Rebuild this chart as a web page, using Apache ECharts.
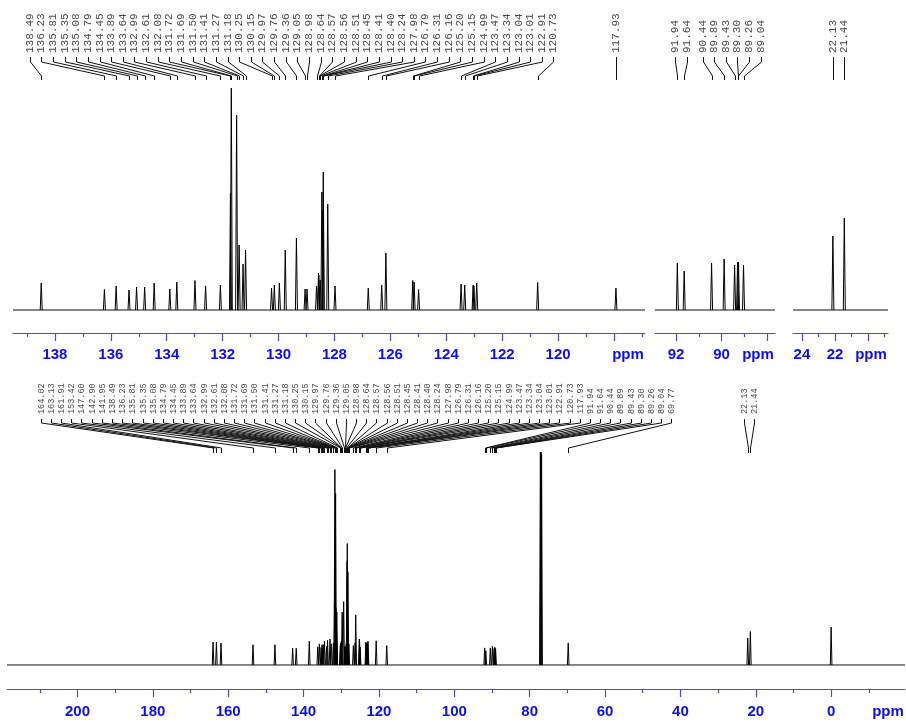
<!DOCTYPE html>
<html>
<head>
<meta charset="utf-8">
<script src="https://cdn.jsdelivr.net/npm/echarts@6/dist/echarts.min.js"></script>
<style>
  html, body { margin: 0; padding: 0; background: #fff; }
  #chart { width: 906px; height: 722px; }
</style>
</head>
<body>
<div id="chart"></div>
<script>
// 13C NMR peak list: chemical shift (ppm) and relative intensity
const peakPpm = [
  164.02, 163.13, 161.91, 153.42, 147.60, 142.90, 141.95,
  138.49, 136.23, 135.81, 135.35, 135.08, 134.79, 134.45, 133.89, 133.64, 132.99,
  132.61, 132.08, 131.72, 131.69, 131.50, 131.41, 131.27, 131.18, 130.25, 130.15,
  129.97, 129.76, 129.36, 129.05, 128.98, 128.64, 128.57, 128.56, 128.51, 128.45,
  128.41, 128.40, 128.24, 127.98, 126.79, 126.31, 126.16, 125.20, 125.15, 124.99,
  123.47, 123.34, 123.04, 123.01, 122.91, 120.73, 117.93,
  91.94, 91.64, 90.44, 89.89, 89.43, 89.30, 89.26, 89.04,
  77.16, 77.00, 76.84, 69.77, 22.13, 21.44, 0.00
];
const peakInt = [
  26, 26, 25, 23, 23, 19, 19,
  27, 20.5, 24, 20, 23, 23, 27, 21, 28, 29.5,
  24, 25, 117, 222, 195, 65, 46, 60, 22, 25,
  27, 60, 72, 21, 21, 24, 37, 35, 30, 118,
  100, 138, 106, 24, 22, 25, 57, 29.5, 28, 20.5,
  26, 25, 25, 24, 27, 27.5, 22,
  19.4, 16.1, 19.4, 21.1, 18.6, 19.8, 19.8, 18.6,
  242, 242, 240, 25, 30.6, 38, 43
];

// Shifts annotated above the expansions and above the full spectrum
const topLabelPpm = [
  138.49, 136.23, 135.81, 135.35, 135.08, 134.79, 134.45, 133.89, 133.64, 132.99,
  132.61, 132.08, 131.72, 131.69, 131.50, 131.41, 131.27, 131.18, 130.25, 130.15,
  129.97, 129.76, 129.36, 129.05, 128.98, 128.64, 128.57, 128.56, 128.51, 128.45,
  128.41, 128.40, 128.24, 127.98, 126.79, 126.31, 126.16, 125.20, 125.15, 124.99,
  123.47, 123.34, 123.04, 123.01, 122.91, 120.73, 117.93,
  91.94, 91.64, 90.44, 89.89, 89.43, 89.30, 89.26, 89.04,
  22.13, 21.44
];
const bottomLabelPpm = [
  164.02, 163.13, 161.91, 153.42, 147.60, 142.90, 141.95,
  138.49, 136.23, 135.81, 135.35, 135.08, 134.79, 134.45, 133.89, 133.64, 132.99,
  132.61, 132.08, 131.72, 131.69, 131.50, 131.41, 131.27, 131.18, 130.25, 130.15,
  129.97, 129.76, 129.36, 129.05, 128.98, 128.64, 128.57, 128.56, 128.51, 128.45,
  128.41, 128.40, 128.24, 127.98, 126.79, 126.31, 126.16, 125.20, 125.15, 124.99,
  123.47, 123.34, 123.04, 123.01, 122.91, 120.73, 117.93,
  91.94, 91.64, 90.44, 89.89, 89.43, 89.30, 89.26, 89.04, 69.77,
  22.13, 21.44
];

// Shift windows (ppm) of the three expansions and the full spectrum
const aromWindow = [116.89, 139.50];
const alkyneWindow = [87.66, 92.92];
const methylWindow = [18.80, 24.54];
const fullWindow = [-19.6, 218.7];

// Tick positions; the last major tick of each expansion carries "ppm" instead of a number
const aromMajor = [138, 136, 134, 132, 130, 128, 126, 124, 122, 120, 118];
const aromMinor = [139, 137, 135, 133, 131, 129, 127, 125, 123, 121, 119, 117];
const alkyneMajor = [92, 90, 88];
const alkyneMinor = [91, 89];
const methylMajor = [24, 22, 20];
const methylMinor = [23, 21, 19];
const fullMajor = [200, 180, 160, 140, 120, 100, 80, 60, 40, 20, 0];
const fullMinor = [210, 190, 170, 150, 130, 110, 90, 70, 50, 30, 10, -10];
const unlabeledTicks = [118, 88, 20];

const BLUE_TEXT = '#0c0cff';
const BLUE_LINE = '#4646ff';

const panels = [
  { win: aromWindow,   major: aromMajor,   minor: aromMinor,   grid: { left: 13,  right: 261, top: 80,  bottom: 389 }, y: [-23, 230],     margin: 14, hw: 1.0 },
  { win: alkyneWindow, major: alkyneMajor, minor: alkyneMinor, grid: { left: 655, right: 131, top: 80,  bottom: 389 }, y: [-9.5, 95.05],  margin: 14, hw: 1.0 },
  { win: methylWindow, major: methylMajor, minor: methylMinor, grid: { left: 793, right: 18,  top: 80,  bottom: 389 }, y: [-9.5, 95.05],  margin: 14, hw: 1.0 },
  { win: fullWindow,   major: fullMajor,   minor: fullMinor,   grid: { left: 7,   right: 1,   top: 440, bottom: 33 },  y: [-27.3, 255.7], margin: 15, hw: 0.8 }
];

const grids = [], xAxes = [], yAxes = [], series = [];

panels.forEach((p, i) => {
  grids.push(Object.assign({ containLabel: false }, p.grid));
  // main axis: line, long ticks, numbers
  xAxes.push({
    type: 'value', gridIndex: i, inverse: true, min: p.win[0], max: p.win[1],
    position: 'bottom',
    axisLine: { onZero: false, lineStyle: { color: BLUE_LINE, width: 1 } },
    axisTick: { customValues: p.major, length: 8, lineStyle: { color: BLUE_LINE, width: 1.2 } },
    axisLabel: {
      customValues: p.major, margin: p.margin,
      color: BLUE_TEXT, fontFamily: 'Liberation Sans', fontWeight: 'bold', fontSize: 15,
      formatter: v => (i < 3 && unlabeledTicks.indexOf(v) >= 0) ? '' : String(v)
    },
    splitLine: { show: false }
  });
  // companion axis carrying the short ticks
  xAxes.push({
    type: 'value', gridIndex: i, inverse: true, min: p.win[0], max: p.win[1],
    position: 'bottom',
    axisLine: { show: false, onZero: false },
    axisTick: { customValues: p.minor, length: 4, lineStyle: { color: BLUE_LINE, width: 1.2 } },
    axisLabel: { show: false },
    splitLine: { show: false }
  });
  yAxes.push({ type: 'value', gridIndex: i, min: p.y[0], max: p.y[1], show: false });

  // baseline across the window
  series.push({
    type: 'line', xAxisIndex: 2 * i, yAxisIndex: i, silent: true, symbol: 'none',
    lineStyle: { color: '#111', width: 1 },
    data: [[p.win[1], 0], [p.win[0], 0]]
  });

  // resonances inside the window
  const pts = [];
  peakPpm.forEach((v, k) => { if (v >= p.win[0] && v <= p.win[1]) pts.push([v, peakInt[k]]); });
  const hw = p.hw;
  series.push({
    type: 'custom', xAxisIndex: 2 * i, yAxisIndex: i, silent: true, clip: true,
    data: pts,
    renderItem: (params, api) => {
      const base = api.coord([api.value(0), 0]);
      const tip = api.coord([api.value(0), api.value(1)]);
      return {
        type: 'polyline',
        shape: { points: [[base[0] - hw, base[1]], [tip[0], tip[1]], [base[0] + hw, base[1]]] },
        style: { stroke: '#000', fill: null, lineWidth: 1 }
      };
    }
  });
});

const chart = echarts.init(document.getElementById('chart'), null, { renderer: 'canvas' });
chart.setOption({ animation: false, grid: grids, xAxis: xAxes, yAxis: yAxes, series: series });

// Spread crowded annotations evenly around the mean position of their peaks
function spread(xs, gap) {
  let cl = xs.map(x => ({ sum: x, n: 1 }));
  let merged = true;
  while (merged) {
    merged = false;
    for (let i = 0; i < cl.length - 1; i++) {
      const a = cl[i], b = cl[i + 1];
      const aRight = a.sum / a.n + a.n * gap / 2;
      const bLeft = b.sum / b.n - b.n * gap / 2;
      if (aRight > bLeft) {
        cl.splice(i, 2, { sum: a.sum + b.sum, n: a.n + b.n });
        merged = true;
        break;
      }
    }
  }
  const out = [];
  cl.forEach(c => {
    const x0 = c.sum / c.n - (c.n - 1) * gap / 2;
    for (let k = 0; k < c.n; k++) out.push(x0 + k * gap);
  });
  return out;
}

function panelOf(v, candidates) {
  return candidates.find(i => v >= panels[i].win[0] && v <= panels[i].win[1]);
}

const rows = [
  { ppm: topLabelPpm, panelsUsed: [0, 1, 2], gap: 11.64, textBase: 53, y: [57, 62, 76, 80], font: '11px "Liberation Mono"' },
  { ppm: bottomLabelPpm, panelsUsed: [3], gap: 10.17, textBase: 414, y: [419, 423, 448, 453], font: '8.5px "Liberation Mono"' }
];

const labelSeries = [];
rows.forEach(row => {
  const items = row.ppm.map(v => {
    const pi = panelOf(v, row.panelsUsed);
    return { v: v, panel: pi, px: chart.convertToPixel({ xAxisIndex: 2 * pi }, v) };
  }).sort((a, b) => a.px - b.px);
  const lx = spread(items.map(it => it.px), row.gap);
  items.forEach((it, k) => { it.lx = lx[k]; });
  row.panelsUsed.forEach(pi => {
    const data = items.filter(it => it.panel === pi).map(it => [it.v, 0, it.lx]);
    labelSeries.push({
      type: 'custom', xAxisIndex: 2 * pi, yAxisIndex: pi, silent: true, clip: false,
      encode: { x: 0, y: 1 },
      data: data,
      renderItem: (params, api) => {
        const v = api.value(0);
        const peakX = Math.round(api.coord([v, 0])[0]) + 0.5;
        const x = Math.round(api.value(2)) + 0.5;
        return {
          type: 'group',
          children: [
            {
              type: 'text', x: x, y: row.textBase, rotation: Math.PI / 2,
              style: { text: v.toFixed(2), font: row.font, fill: '#4a4a4a', align: 'left', verticalAlign: 'middle' }
            },
            {
              type: 'polyline',
              shape: { points: [[x, row.y[0]], [x, row.y[1]], [peakX, row.y[2]], [peakX, row.y[3]]] },
              style: { stroke: '#111', fill: null, lineWidth: 1 }
            }
          ]
        };
      }
    });
  });
});

// "ppm" unit captions near the right end of each axis
const captions = panels.map((p, i) => ({
  type: 'text',
  x: chart.convertToPixel({ xAxisIndex: 2 * i }, p.win[0]) - 17,
  y: i < 3 ? 355 : 712,
  style: { text: 'ppm', font: 'bold 15px "Liberation Sans"', fill: BLUE_TEXT, align: 'center', verticalAlign: 'middle' }
}));

chart.setOption({ series: series.concat(labelSeries), graphic: captions });
</script>
</body>
</html>
